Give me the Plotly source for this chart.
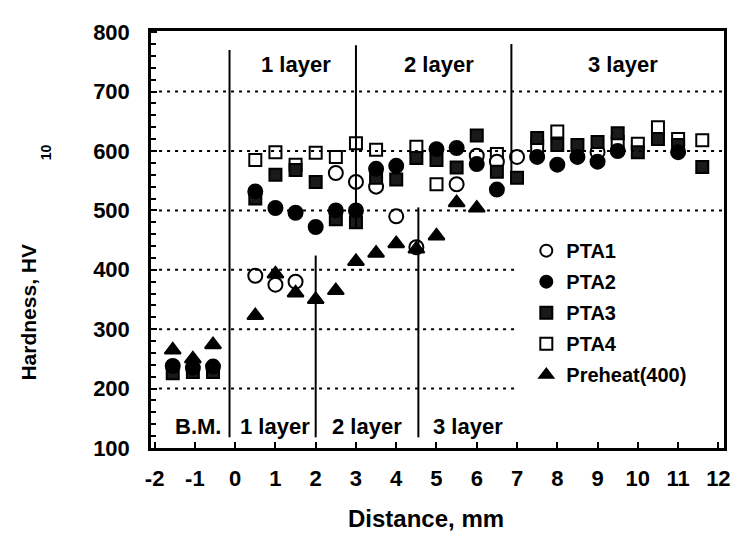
import plotly.graph_objects as go

# ---- data ----
pta1_x = [0.5, 1.0, 1.5, 2.5, 3.0, 3.5, 4.0, 4.5, 5.5, 6.0, 6.5, 7.0, 9.0]
pta1_y = [390, 375, 380, 563, 548, 540, 490, 438, 544, 592, 582, 590, 598]

pta2_x = [-1.55, -1.05, -0.55, 0.5, 1.0, 1.5, 2.0, 2.5, 3.0, 3.5, 4.0, 5.0, 5.5, 6.0, 6.5,
          7.5, 8.0, 8.5, 9.0, 9.5, 11.0]
pta2_y = [238, 235, 237, 532, 504, 496, 472, 500, 500, 570, 575, 603, 605, 578, 535,
          590, 577, 590, 582, 600, 598]

pta3_x = [-1.55, -1.05, -0.55, 0.5, 1.0, 1.5, 2.0, 2.5, 3.0, 3.5, 4.0, 4.5, 5.0, 5.5, 6.0,
          6.5, 7.0, 7.5, 8.0, 8.5, 9.0, 9.5, 10.0, 10.5, 11.0, 11.6]
pta3_y = [226, 228, 228, 520, 560, 568, 548, 485, 480, 555, 552, 588, 585, 572, 626,
          565, 555, 622, 610, 610, 615, 630, 598, 620, 610, 573]

pta4_x = [0.5, 1.0, 1.5, 2.0, 2.5, 3.0, 3.5, 4.5, 5.0, 6.5, 7.5, 8.0, 9.5, 10.0, 10.5, 11.0, 11.6]
pta4_y = [585, 598, 577, 597, 590, 613, 602, 607, 544, 595, 608, 633, 615, 612, 640, 620, 618]

pre_x = [-1.55, -1.05, -0.55, 0.5, 1.0, 1.5, 2.0, 2.5, 3.0, 3.5, 4.0, 4.5, 5.0, 5.5, 6.0]
pre_y = [265, 250, 274, 323, 393, 361, 350, 365, 414, 428, 444, 435, 457, 513, 504]

x_ticks = list(range(-2, 13))
y_ticks = [100, 200, 300, 400, 500, 600, 700, 800]

# region separators: (x, y_start, y_end)
sep_lines = [(-0.14, 118, 770), (3.0, 470, 778), (6.86, 565, 780),
             (2.0, 118, 424), (4.55, 118, 505)]
# dotted reference lines
grid_full = [500, 600, 700]
grid_part = [200, 300, 400]

top_labels = [(1.5, "1 layer"), (5.05, "2 layer"), (9.64, "3 layer")]
bot_labels = [(-0.93, "B.M."), (0.98, "1 layer"), (3.28, "2 layer"), (5.79, "3 layer")]

FONT = "Liberation Sans, Arial, Helvetica, sans-serif"
XMIN, XMAX = -2.09, 12.14
YMIN, YMAX = 100, 802

fig = go.Figure()

def add(name, xs, ys, symbol, fill, rank, size=14):
    fig.add_trace(go.Scatter(
        x=xs, y=ys, mode="markers", name=name, legendrank=rank, legendgroup=name,
        marker=dict(symbol=symbol, size=size, color=fill,
                    line=dict(color="black", width=2)),
    ))

# drawing order chosen to reproduce overlaps
add("PTA4", pta4_x, pta4_y, "square", "white", 4, 12)
add("PTA1", pta1_x, pta1_y, "circle", "white", 1)
add("PTA3", pta3_x, pta3_y, "square", "#1a1a1a", 3, 12)
add("PTA2", pta2_x, pta2_y, "circle", "black", 2)
add("Preheat(400)", pre_x, pre_y, "triangle-up", "black", 5)

shapes = []
for xv, y0, y1 in sep_lines:
    shapes.append(dict(type="line", xref="x", yref="y", x0=xv, x1=xv, y0=y0, y1=y1,
                       line=dict(color="black", width=2)))
for yv in grid_full:
    shapes.append(dict(type="line", xref="x", yref="y", x0=XMIN + 0.2, x1=XMAX - 0.05,
                       y0=yv, y1=yv, line=dict(color="black", width=2, dash="3px,5px")))
for yv in grid_part:
    shapes.append(dict(type="line", xref="x", yref="y", x0=XMIN + 0.2, x1=7.05,
                       y0=yv, y1=yv, line=dict(color="black", width=2, dash="3px,5px")))

annotations = []
for xv, t in top_labels:
    annotations.append(dict(x=xv, y=746, xref="x", yref="y", text=t, showarrow=False,
                            font=dict(family=FONT, size=22, color="black", weight="bold")))
for xv, t in bot_labels:
    annotations.append(dict(x=xv, y=137, xref="x", yref="y", text=t, showarrow=False,
                            font=dict(family=FONT, size=22, color="black", weight="bold")))

annotations.append(dict(x=0.48, y=-0.17, xref="paper", yref="paper", text="Distance, mm",
                        showarrow=False, xanchor="center", yanchor="middle",
                        font=dict(family=FONT, size=24, color="black", weight="bold")))
annotations.append(dict(x=-0.2145, y=0.325, xref="paper", yref="paper", text="Hardness, HV",
                        showarrow=False, textangle=-90, xanchor="center", yanchor="middle",
                        font=dict(family=FONT, size=21, color="black", weight="bold")))
annotations.append(dict(x=-0.184, y=0.708, xref="paper", yref="paper", text="10",
                        showarrow=False, textangle=-90, xanchor="center", yanchor="middle",
                        font=dict(family=FONT, size=14, color="black", weight="bold")))

# the page body adds an 8px offset, so the figure is drawn 8px smaller
fig.update_layout(
    width=735, height=539,
    margin=dict(l=143, r=14, t=16, b=99),
    paper_bgcolor="white", plot_bgcolor="white",
    font=dict(family=FONT, color="black", size=20, weight="bold"),
    showlegend=True,
    legend=dict(x=0.655, y=0.52, xanchor="left", yanchor="top",
                bgcolor="rgba(0,0,0,0)", borderwidth=0, tracegroupgap=2,
                font=dict(family=FONT, size=20, color="black", weight="bold"),
                itemsizing="constant"),
    shapes=shapes, annotations=annotations,
)
fig.update_xaxes(range=[XMIN, XMAX], tickvals=x_ticks, ticktext=[str(v) for v in x_ticks],
                 showgrid=False, zeroline=False, showline=True, mirror=True,
                 linecolor="black", linewidth=2.5, ticks="inside", ticklen=6,
                 tickwidth=2, tickcolor="black", ticklabelstandoff=9,
                 tickfont=dict(family=FONT, size=22, color="black", weight="bold"))
fig.update_yaxes(range=[YMIN, YMAX], tickvals=y_ticks, ticktext=[str(v) for v in y_ticks],
                 showgrid=False, zeroline=False, showline=True, mirror=True,
                 linecolor="black", linewidth=2.5, ticks="inside", ticklen=6,
                 tickwidth=2, tickcolor="black", ticklabelstandoff=14,
                 minor=dict(dtick=20, tick0=100, ticks="inside", ticklen=5,
                            tickwidth=1.5, tickcolor="black"),
                 tickfont=dict(family=FONT, size=22, color="black", weight="bold"))

fig.write_html("out.html")
